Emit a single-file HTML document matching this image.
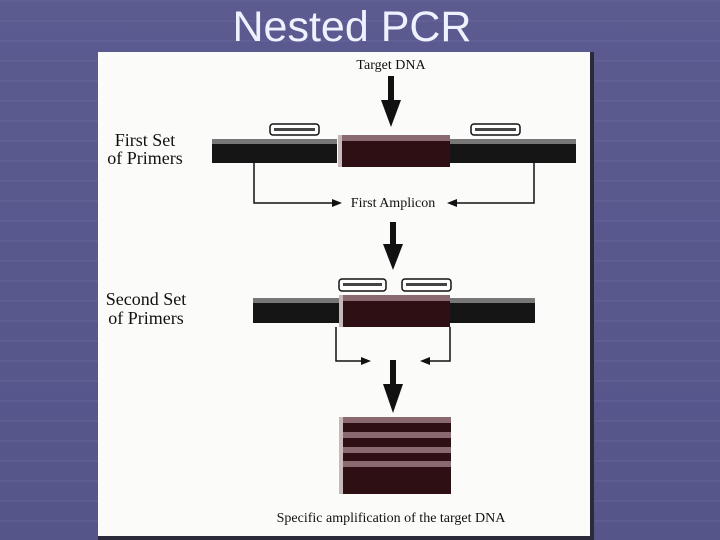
<!DOCTYPE html>
<html><head><meta charset="utf-8"><style>
html,body{margin:0;padding:0;}
body{width:720px;height:540px;overflow:hidden;background:linear-gradient(180deg,#5b5b90,#55558a);}
</style></head><body>
<svg width="720" height="540" xmlns="http://www.w3.org/2000/svg" style="position:absolute;left:0;top:0">
<defs>
<pattern id="st" width="720" height="20" patternUnits="userSpaceOnUse">
<rect y="0" width="720" height="2" fill="#6a6aa0" opacity="0.35"/>
</pattern>
</defs>
<rect width="720" height="540" fill="url(#st)"/>
<text x="352" y="41" font-family="Liberation Sans, sans-serif" font-size="43" fill="#eef2ff" text-anchor="middle">Nested PCR</text>
<rect x="98" y="52" width="496" height="488" fill="#2a2a3a"/>
<rect x="98" y="52" width="492" height="484" fill="#fbfbfa"/>
<g font-family="Liberation Serif, serif" fill="#111">
<text x="391" y="69" font-size="14" text-anchor="middle">Target DNA</text>
<text x="145" y="146" font-size="18" text-anchor="middle">First Set</text>
<text x="145" y="164" font-size="18" text-anchor="middle">of Primers</text>
<text x="393" y="207" font-size="14" text-anchor="middle">First Amplicon</text>
<text x="146" y="305" font-size="18" text-anchor="middle">Second Set</text>
<text x="146" y="324" font-size="18" text-anchor="middle">of Primers</text>
<text x="391" y="522" font-size="14" text-anchor="middle">Specific amplification of the target DNA</text>
</g>
<g fill="#111">
<rect x="388" y="76" width="6" height="26"/><polygon points="381,100 401,100 391,127"/>
<rect x="390" y="222" width="6" height="24"/><polygon points="383,244 403,244 393,270"/>
<rect x="390" y="360" width="6" height="26"/><polygon points="383,384 403,384 393,413"/>
</g>
<g>
<rect x="212" y="139" width="125" height="24" fill="#151515"/><rect x="212" y="139" width="125" height="5" fill="#777"/>
<rect x="450" y="139" width="126" height="24" fill="#151515"/><rect x="450" y="139" width="126" height="5" fill="#777"/>
<rect x="338" y="135" width="112" height="32" fill="#2e0f14"/><rect x="338" y="135" width="112" height="6" fill="#8a6a70"/><rect x="338" y="135" width="4" height="32" fill="#c9b8ba"/>
<rect x="270" y="124" width="49" height="11" rx="3" fill="#fff" stroke="#111" stroke-width="1.5"/><rect x="274" y="128" width="41" height="3" fill="#444"/>
<rect x="471" y="124" width="49" height="11" rx="3" fill="#fff" stroke="#111" stroke-width="1.5"/><rect x="475" y="128" width="41" height="3" fill="#444"/>
</g>
<g stroke="#111" stroke-width="1.5" fill="none">
<polyline points="254,163 254,203 334,203"/><polyline points="534,163 534,203 455,203"/>
<polyline points="336,327 336,361 364,361"/><polyline points="450,327 450,361 427,361"/>
</g>
<g fill="#111">
<polygon points="342,203 332,199 332,207"/><polygon points="447,203 457,199 457,207"/>
<polygon points="371,361 361,357 361,365"/><polygon points="420,361 430,357 430,365"/>
</g>
<g>
<rect x="253" y="298" width="86" height="25" fill="#151515"/><rect x="253" y="298" width="86" height="5" fill="#777"/>
<rect x="450" y="298" width="85" height="25" fill="#151515"/><rect x="450" y="298" width="85" height="5" fill="#777"/>
<rect x="339" y="295" width="111" height="32" fill="#2e0f14"/><rect x="339" y="295" width="111" height="6" fill="#8a6a70"/><rect x="339" y="295" width="4" height="32" fill="#c9b8ba"/>
<rect x="339" y="279" width="47" height="12" rx="3" fill="#fff" stroke="#111" stroke-width="1.5"/><rect x="343" y="283" width="39" height="3" fill="#444"/>
<rect x="402" y="279" width="49" height="12" rx="3" fill="#fff" stroke="#111" stroke-width="1.5"/><rect x="406" y="283" width="41" height="3" fill="#444"/>
</g>
<g>
<rect x="339" y="417" width="112" height="77" fill="#2e0f14"/>
<rect x="339" y="417" width="112" height="6" fill="#8a6a70"/>
<rect x="339" y="432" width="112" height="6" fill="#8a6a70"/>
<rect x="339" y="447" width="112" height="6" fill="#8a6a70"/>
<rect x="339" y="461" width="112" height="6" fill="#8a6a70"/>
<rect x="339" y="417" width="4" height="77" fill="#c9b8ba"/>
</g>
</svg>
</body></html>
